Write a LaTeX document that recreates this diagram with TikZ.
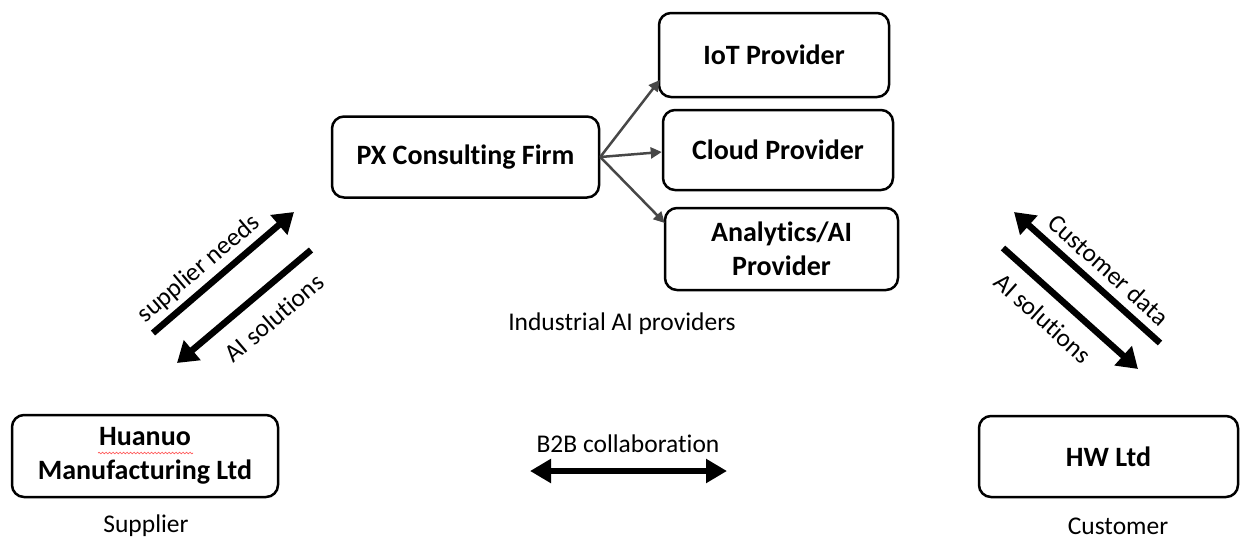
\documentclass[tikz,border=0pt]{standalone}
\usepackage{fontspec}
\setmainfont[Ligatures=NoCommon]{Carlito}
\usetikzlibrary{arrows.meta,calc,decorations.pathmorphing}
\begin{document}
\begin{tikzpicture}[x=1pt,y=-1pt,
  box/.style={draw, line width=2.5pt, rounded corners=12pt, align=center,
    inner sep=0pt, font=\fontsize{28}{34}\selectfont\bfseries},
  lbl/.style={font=\fontsize{25.5}{30}\selectfont, inner sep=0pt},
  bigarrow/.style={line width=6.5pt, -{Triangle[length=20pt,width=25pt]}},
  bothways/.style={line width=6.5pt, {Triangle[length=21pt,width=23pt]}-{Triangle[length=21pt,width=23pt]}},
  feed/.style={draw=black!72, line width=2.5pt, -{Triangle[length=11pt,width=11pt]}}]

\useasboundingbox (0,0) rectangle (1251,539);

% providers
\node[box, minimum width=230pt, minimum height=84pt] (iot) at (774,55) {IoT Provider};
\node[box, minimum width=230pt, minimum height=80pt] (cloud) at (778,150) {Cloud Provider};
\node[box, minimum width=233pt, minimum height=82pt] (ana) at (781.5,249) {Analytics/AI\\Provider};
\node[box, minimum width=267pt, minimum height=81pt] (px) at (465.5,157) {PX Consulting Firm};

% supplier and customer
\node[box, minimum width=266pt, minimum height=82pt] (hua) at (145,456) {Huanuo\\Manufacturing Ltd};
\node[box, minimum width=259pt, minimum height=81pt] (hw) at (1108.5,456.5) {HW Ltd};

% spell-check underline
\draw[red!65, line width=0.7pt, decorate, decoration={snake, amplitude=0.8pt, segment length=3.5pt}]
  ($(hua.center)+(-47,-3)$) -- ($(hua.center)+(48,-3)$);

% plain captions
\node[lbl] (ind) at (622,324) {Industrial AI providers};
\node[lbl] (sup) at (146,526) {Supplier};
\node[lbl] (cus) at (1118,526) {Customer};
\node[lbl] (b2b) at (628,444) {B2B collaboration};

% consulting firm to providers
\draw[feed] (px.east) -- ($(iot.west)+(2,25)$);
\draw[feed] (px.east) -- ($(cloud.west)+(0,2)$);
\draw[feed] (px.east) -- ($(ana.west)+(1,-26)$);

% B2B collaboration
\coordinate (bl) at (530,471);
\coordinate (br) at (727,471);
\draw[bothways] (bl) -- (br);

% supplier side flows
\coordinate (s1a) at (153,333);
\coordinate (s1b) at (294,212);
\coordinate (s2a) at (311,250);
\coordinate (s2b) at (177,363);
\draw[bigarrow] (s1a) -- (s1b);
\draw[bigarrow] (s2a) -- (s2b);
\node[lbl, rotate=40.5] (sneeds) at (199,269) {supplier needs};
\node[lbl, rotate=40.5] (sai) at (274,318) {AI solutions};

% customer side flows
\coordinate (c1a) at (1160,343);
\coordinate (c1b) at (1014,212);
\coordinate (c2a) at (1003,248);
\coordinate (c2b) at (1138,369);
\draw[bigarrow] (c1a) -- (c1b);
\draw[bigarrow] (c2a) -- (c2b);
\node[lbl, rotate=-41.8] (cdata) at (1109,270) {Customer data};
\node[lbl, rotate=-41.8] (cai) at (1043,318) {AI solutions};
\end{tikzpicture}
\end{document}
